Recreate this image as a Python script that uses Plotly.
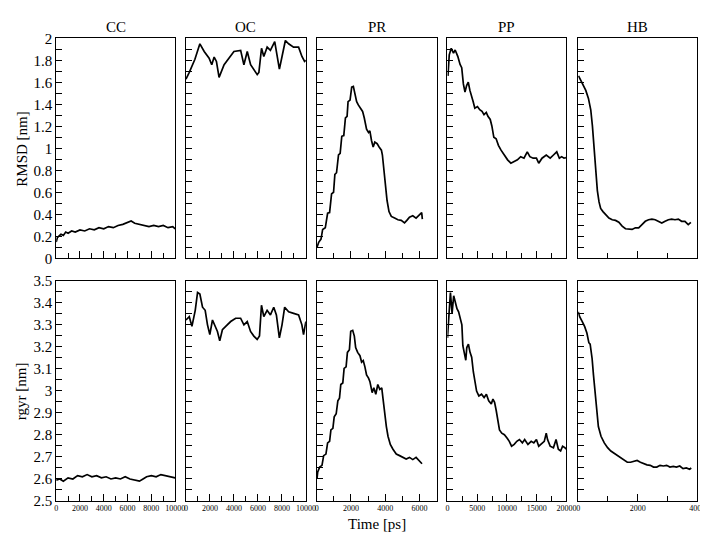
import plotly.graph_objects as go

W, H = 708, 533
FONT = "Liberation Serif"

panel_titles = ["CC", "OC", "PR", "PP", "HB"]
x_ranges = [(0, 10000), (0, 10000), (0, 7000), (0, 20000), (0, 4000)]
x_dticks = [2000, 2000, 2000, 5000, 2000]
x_minor = [1000, 1000, 1000, 2500, 1000]

# ---------------- RMSD (nm) ----------------
cc_rmsd_t = [0, 100, 200, 400, 600, 800, 1000, 1300, 1600, 2000, 2400, 2800, 3200, 3600, 4000, 4400,
             4800, 5200, 5600, 6000, 6300, 6600, 7000, 7400, 7800, 8200, 8600, 9000, 9400, 9800, 10000]
cc_rmsd_v = [0.15, 0.19, 0.20, 0.22, 0.21, 0.24, 0.23, 0.25, 0.24, 0.26, 0.25, 0.27, 0.26, 0.28, 0.27, 0.29,
             0.28, 0.30, 0.31, 0.33, 0.34, 0.32, 0.31, 0.30, 0.29, 0.30, 0.29, 0.30, 0.28, 0.29, 0.27]

oc_rmsd_t = [0, 276, 746, 1160, 1520, 1930, 2150, 2350, 2540, 2760, 3180, 3590, 4000, 4560, 4830, 5110,
             5390, 5940, 6080, 6300, 6490, 6770, 7040, 7400, 7600, 7790, 8010, 8290, 8560, 8970, 9390,
             9670, 9890, 10000]
oc_rmsd_v = [1.63, 1.69, 1.81, 1.95, 1.88, 1.82, 1.76, 1.83, 1.79, 1.645, 1.76, 1.82, 1.88, 1.89, 1.76, 1.88,
             1.76, 1.67, 1.69, 1.91, 1.835, 1.92, 1.89, 1.97, 1.85, 1.72, 1.835, 1.98, 1.95, 1.92, 1.92,
             1.835, 1.79, 1.80]

pr_rmsd_t = [19, 116, 250, 347, 501, 636, 752, 867, 983, 1060, 1156, 1272, 1368, 1464, 1580, 1676, 1773,
             1830, 1946, 2042, 2138, 2235, 2331, 2427, 2562, 2678, 2774, 2909, 3025, 3102, 3198, 3295,
             3391, 3526, 3642, 3776, 3834, 3930, 4027, 4104, 4219, 4354, 4547, 4739, 4932, 5125, 5260,
             5414, 5607, 5799, 5992, 6127, 6166]
pr_rmsd_v = [0.103, 0.147, 0.176, 0.264, 0.279, 0.411, 0.417, 0.587, 0.602, 0.764, 0.779, 0.94, 0.955,
             1.11, 1.116, 1.278, 1.292, 1.424, 1.439, 1.557, 1.563, 1.498, 1.424, 1.395, 1.366, 1.336,
             1.278, 1.175, 1.145, 1.16, 1.072, 1.013, 1.057, 1.043, 1.013, 0.984, 0.94, 0.793, 0.646,
             0.529, 0.426, 0.382, 0.367, 0.352, 0.346, 0.323, 0.346, 0.376, 0.388, 0.367, 0.396, 0.417,
             0.358]

pp_rmsd_t = [83, 303, 634, 1019, 1295, 1736, 2122, 2397, 2673, 2948, 3224, 3499, 3775, 4050, 4326, 4601,
             5042, 5428, 5813, 6144, 6530, 6805, 7191, 7466, 7797, 8183, 8568, 9009, 9560, 10111, 10662,
             11213, 11764, 12315, 12866, 13417, 13858, 14409, 14960, 15346, 15897, 16613, 17274, 17825,
             18376, 18817, 19203, 19589, 19919]
pp_rmsd_v = [1.659, 1.85, 1.909, 1.865, 1.894, 1.836, 1.762, 1.733, 1.586, 1.512, 1.571, 1.601, 1.527,
             1.483, 1.424, 1.365, 1.38, 1.351, 1.336, 1.307, 1.327, 1.292, 1.263, 1.204, 1.101, 1.087,
             1.028, 0.984, 0.94, 0.896, 0.866, 0.881, 0.896, 0.925, 0.911, 0.969, 0.925, 0.911, 0.911,
             0.866, 0.911, 0.94, 0.911, 0.94, 0.969, 0.911, 0.925, 0.911, 0.916]

hb_rmsd_t = [11, 88, 166, 255, 344, 422, 478, 533, 589, 644, 700, 755, 833, 922, 1033, 1144, 1255, 1366,
             1478, 1589, 1700, 1811, 1922, 2033, 2144, 2255, 2366, 2478, 2589, 2700, 2811, 2922, 3033,
             3144, 3255, 3366, 3477, 3589, 3700, 3789]
hb_rmsd_v = [1.659, 1.615, 1.571, 1.527, 1.454, 1.351, 1.204, 0.998, 0.793, 0.617, 0.514, 0.455, 0.426,
             0.396, 0.367, 0.352, 0.346, 0.329, 0.294, 0.27, 0.264, 0.264, 0.279, 0.279, 0.308, 0.338,
             0.352, 0.358, 0.352, 0.338, 0.323, 0.338, 0.352, 0.358, 0.352, 0.358, 0.338, 0.338, 0.308,
             0.329]

# ---------------- rgyr (nm) ----------------
cc_rgyr_t = [0, 300, 600, 1000, 1400, 1800, 2200, 2600, 3000, 3400, 3800, 4200, 4600, 5000, 5400, 5800,
             6200, 6600, 7000, 7300, 7600, 8000, 8400, 8800, 9200, 9600, 10000]
cc_rgyr_v = [2.595, 2.60, 2.59, 2.605, 2.60, 2.615, 2.61, 2.62, 2.61, 2.615, 2.605, 2.61, 2.60, 2.605,
             2.60, 2.61, 2.60, 2.595, 2.59, 2.60, 2.61, 2.615, 2.61, 2.62, 2.615, 2.61, 2.605]

oc_rgyr_t = [0, 276, 497, 773, 966, 1160, 1381, 1602, 1795, 1989, 2210, 2430, 2624, 2817, 3038, 3314,
             3728, 4142, 4556, 4833, 5109, 5385, 5661, 5937, 6130, 6296, 6490, 6766, 7042, 7318, 7539,
             7788, 8009, 8230, 8561, 8976, 9390, 9666, 9804, 9997]
oc_rgyr_v = [3.322, 3.337, 3.293, 3.366, 3.447, 3.44, 3.38, 3.366, 3.30, 3.256, 3.322, 3.29, 3.27,
             3.227, 3.278, 3.293, 3.315, 3.33, 3.33, 3.30, 3.315, 3.27, 3.249, 3.234, 3.249, 3.389,
             3.337, 3.366, 3.345, 3.38, 3.345, 3.241, 3.30, 3.38, 3.359, 3.352, 3.345, 3.30, 3.256, 3.315]

pr_rgyr_t = [19, 58, 173, 308, 405, 539, 636, 752, 829, 944, 1021, 1137, 1233, 1329, 1406, 1522, 1599,
             1715, 1792, 1908, 1985, 2100, 2196, 2273, 2389, 2524, 2620, 2716, 2813, 2909, 3025, 3102,
             3237, 3333, 3449, 3565, 3680, 3796, 3873, 3969, 4065, 4161, 4296, 4450, 4643, 4836, 5029,
             5221, 5414, 5607, 5799, 5992, 6146]
pr_rgyr_v = [2.603, 2.632, 2.654, 2.662, 2.706, 2.713, 2.764, 2.771, 2.823, 2.83, 2.882, 2.896, 2.955,
             2.967, 3.029, 3.036, 3.102, 3.109, 3.175, 3.187, 3.271, 3.275, 3.249, 3.197, 3.175, 3.16,
             3.131, 3.138, 3.109, 3.073, 3.058, 3.043, 2.992, 3.014, 2.985, 3.029, 3.007, 3.014, 2.963,
             2.896, 2.838, 2.794, 2.757, 2.735, 2.713, 2.706, 2.698, 2.691, 2.698, 2.688, 2.698, 2.684,
             2.669]

pp_rgyr_t = [0, 225, 500, 775, 1050, 1325, 1600, 1875, 2149, 2424, 2589, 2864, 3084, 3249, 3524, 3798,
             4073, 4348, 4623, 4898, 5283, 5723, 6163, 6547, 6932, 7372, 7647, 7922, 8197, 8471, 8746,
             9131, 9571, 10011, 10396, 10781, 11221, 11661, 12101, 12595, 12980, 13530, 14080, 14520,
             14960, 15345, 15895, 16279, 16609, 16829, 17269, 17818, 18258, 18643, 19028, 19358, 19743,
             20000]
pp_rgyr_v = [3.241, 3.337, 3.447, 3.352, 3.432, 3.403, 3.373, 3.359, 3.33, 3.30, 3.205, 3.168, 3.139,
             3.197, 3.212, 3.175, 3.153, 3.087, 3.043, 2.999, 2.977, 2.985, 2.97, 2.985, 2.955, 2.941,
             2.963, 2.948, 2.911, 2.867, 2.823, 2.808, 2.801, 2.786, 2.771, 2.749, 2.757, 2.771, 2.779,
             2.764, 2.779, 2.757, 2.771, 2.764, 2.779, 2.749, 2.764, 2.771, 2.808, 2.779, 2.749, 2.742,
             2.779, 2.735, 2.727, 2.749, 2.742, 2.735]

hb_rgyr_t = [0, 49, 137, 215, 292, 358, 402, 468, 513, 568, 623, 678, 767, 877, 988, 1098, 1208, 1319,
             1429, 1539, 1650, 1760, 1870, 1981, 2091, 2201, 2312, 2422, 2532, 2643, 2753, 2863, 2974,
             3084, 3194, 3305, 3415, 3525, 3636, 3746, 3801]
hb_rgyr_v = [3.359, 3.337, 3.315, 3.293, 3.263, 3.219, 3.212, 3.146, 3.073, 2.985, 2.896, 2.838, 2.794,
             2.764, 2.742, 2.727, 2.717, 2.706, 2.698, 2.684, 2.676, 2.676, 2.679, 2.684, 2.676, 2.669,
             2.664, 2.662, 2.654, 2.654, 2.662, 2.659, 2.662, 2.654, 2.657, 2.654, 2.659, 2.647, 2.65,
             2.644, 2.65]

rmsd_series = [(cc_rmsd_t, cc_rmsd_v), (oc_rmsd_t, oc_rmsd_v), (pr_rmsd_t, pr_rmsd_v),
               (pp_rmsd_t, pp_rmsd_v), (hb_rmsd_t, hb_rmsd_v)]
rgyr_series = [(cc_rgyr_t, cc_rgyr_v), (oc_rgyr_t, oc_rgyr_v), (pr_rgyr_t, pr_rgyr_v),
               (pp_rgyr_t, pp_rgyr_v), (hb_rgyr_t, hb_rgyr_v)]

# ---------------- layout geometry (pixels) ----------------
col_px = [(47, 168), (179, 301), (312, 434), (445, 566), (578, 699)]
row_px = [(23, 250), (273, 500)]

fig = go.Figure()
layout = dict(
    width=W, height=H, margin=dict(l=0, r=0, t=0, b=0),
    paper_bgcolor="white", plot_bgcolor="white", showlegend=False,
    font=dict(family=FONT, color="black"),
)

annotations = []
idx = 0
for r, (series, yr, ydt, ymin) in enumerate([
        (rmsd_series, (0, 2), 0.2, 0.1),
        (rgyr_series, (2.5, 3.5), 0.1, 0.05)]):
    for c in range(5):
        idx += 1
        xa = "x" if idx == 1 else f"x{idx}"
        ya = "y" if idx == 1 else f"y{idx}"
        t, v = series[c]
        fig.add_trace(go.Scatter(x=t, y=v, mode="lines", xaxis=xa, yaxis=ya,
                                 line=dict(color="black", width=1.7), hoverinfo="skip"))
        x0, x1 = col_px[c]
        y0, y1 = row_px[r]
        layout["xaxis" if idx == 1 else f"xaxis{idx}"] = dict(
            domain=[x0 / W, x1 / W], anchor=ya, range=list(x_ranges[c]),
            showgrid=False, zeroline=False, showline=True, mirror=True,
            linecolor="black", linewidth=1,
            ticks="inside", ticklen=7, tickwidth=1, tickcolor="black",
            tick0=0, dtick=x_dticks[c], tickformat="d",
            minor=dict(ticks="inside", dtick=x_minor[c], ticklen=5, tickcolor="black", showgrid=False),
            showticklabels=(r == 1), tickfont=dict(family=FONT, size=8, color="black"),
            ticklabelstandoff=-1,
        )
        layout["yaxis" if idx == 1 else f"yaxis{idx}"] = dict(
            domain=[1 - y1 / H, 1 - y0 / H], anchor=xa, range=list(yr),
            showgrid=False, zeroline=False, showline=True, mirror=True,
            linecolor="black", linewidth=1,
            ticks="inside", ticklen=6, tickwidth=1, tickcolor="black",
            tick0=yr[0], dtick=ydt,
            minor=dict(ticks="inside", dtick=ymin, ticklen=6, tickcolor="black", showgrid=False),
            showticklabels=(c == 0), tickfont=dict(family=FONT, size=15, color="black"),
        )

for c, name in enumerate(panel_titles):
    x0, x1 = col_px[c]
    annotations.append(dict(text=name, x=(x0 + x1) / 2 / W, y=1 - 11 / H, xref="paper", yref="paper",
                            showarrow=False, font=dict(family=FONT, size=15, color="black"),
                            xanchor="center", yanchor="middle"))
annotations.append(dict(text="RMSD [nm]", x=12 / W, y=1 - 137 / H, xref="paper", yref="paper",
                        showarrow=False, textangle=-90, font=dict(family=FONT, size=15, color="black"),
                        xanchor="center", yanchor="middle"))
annotations.append(dict(text="rgyr [nm]", x=12 / W, y=1 - 387 / H, xref="paper", yref="paper",
                        showarrow=False, textangle=-90, font=dict(family=FONT, size=15, color="black"),
                        xanchor="center", yanchor="middle"))
annotations.append(dict(text="Time [ps]", x=373 / W, y=0, xref="paper", yref="paper",
                        showarrow=False, font=dict(family=FONT, size=15, color="black"),
                        xanchor="center", yanchor="bottom", borderpad=0))
layout["annotations"] = annotations
fig.update_layout(**layout)
fig.write_html("out.html")
